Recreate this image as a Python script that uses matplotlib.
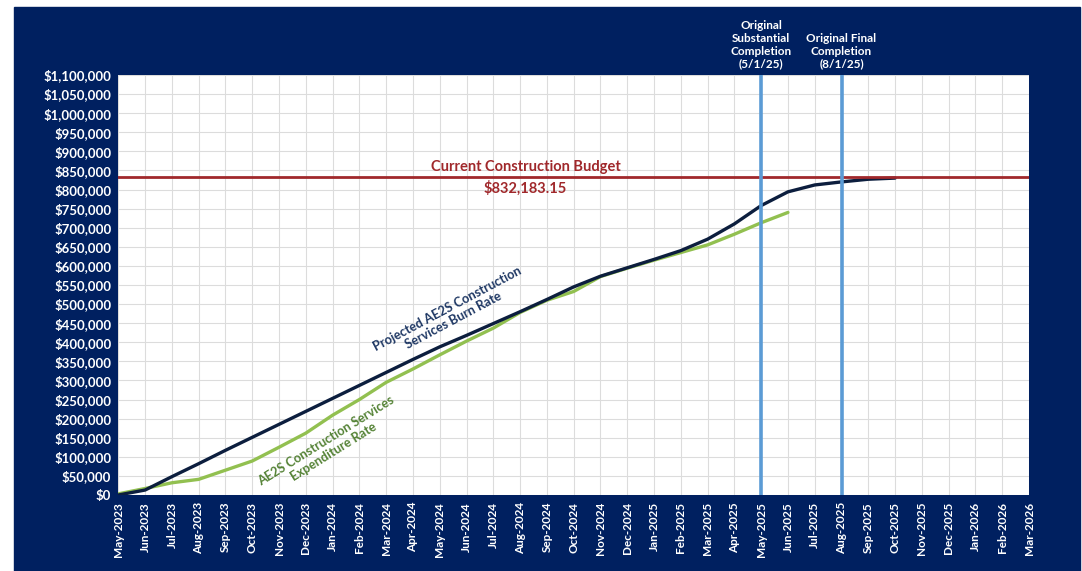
import matplotlib
matplotlib.use("Agg")
import matplotlib.pyplot as plt
from matplotlib.patches import Rectangle
from matplotlib.ticker import FuncFormatter

# ---------------------------------------------------------------------------
# Data
# ---------------------------------------------------------------------------
MONTHS = [
    "May-2023", "Jun-2023", "Jul-2023", "Aug-2023", "Sep-2023", "Oct-2023",
    "Nov-2023", "Dec-2023", "Jan-2024", "Feb-2024", "Mar-2024", "Apr-2024",
    "May-2024", "Jun-2024", "Jul-2024", "Aug-2024", "Sep-2024", "Oct-2024",
    "Nov-2024", "Dec-2024", "Jan-2025", "Feb-2025", "Mar-2025", "Apr-2025",
    "May-2025", "Jun-2025", "Jul-2025", "Aug-2025", "Sep-2025", "Oct-2025",
    "Nov-2025", "Dec-2025", "Jan-2026", "Feb-2026", "Mar-2026",
]

projected_burn = [
    0, 13000, 48000, 82000, 117000, 151000, 185000, 219000, 253000, 287000,
    321000, 355000, 388000, 418000, 449000, 480000, 512000, 545000, 573000,
    595000, 617000, 640000, 670000, 710000, 758000, 794000, 812000, 820000,
    827000, 830000,
]

actual_expenditure = [
    3000, 17000, 32000, 41000, 65000, 89000, 125000, 162000, 209000, 250000,
    295000, 330000, 367000, 403000, 437000, 478000, 510000, 533000, 572000,
    594000, 615000, 635000, 655000, 683000, 713000, 740000,
]

BUDGET = 832183.15
MILESTONES = [
    ("May-2025", "Original\nSubstantial\nCompletion\n(5/1/25)"),
    ("Aug-2025", "Original Final\nCompletion\n(8/1/25)"),
]

# ---------------------------------------------------------------------------
# Styling
# ---------------------------------------------------------------------------
NAVY_BG = "#002060"
NAVY_LINE = "#0c1e3e"
GREEN_LINE = "#92c050"
BUDGET_RED = "#a0282b"
MILESTONE_BLUE = "#5b9bd5"
GRID = "#dcdcdc"

plt.rcParams["font.family"] = ["Lato", "DejaVu Sans"]

W, H = 1082, 571
fig = plt.figure(figsize=(W / 100, H / 100), dpi=100, facecolor="white")
fig.patches.append(Rectangle((14 / W, 0), (1080 - 14) / W, (571 - 7) / H,
                             transform=fig.transFigure, color=NAVY_BG,
                             zorder=-10))

ax = fig.add_axes([118.3 / W, (H - 495) / H, (1029 - 118.3) / W, (495 - 75) / H])
ax.set_facecolor("white")

x_all = list(range(len(MONTHS)))

ax.plot(x_all[:len(actual_expenditure)], actual_expenditure,
        color=GREEN_LINE, linewidth=2.4, zorder=3, solid_capstyle="round")
ax.plot(x_all[:len(projected_burn)], projected_burn,
        color=NAVY_LINE, linewidth=2.4, zorder=4, solid_capstyle="round")

ax.axhline(BUDGET, color=BUDGET_RED, linewidth=2.0, zorder=5)

for month, label in MILESTONES:
    xm = MONTHS.index(month)
    ax.axvline(xm, color=MILESTONE_BLUE, linewidth=2.6, zorder=6)
    ax.annotate(label, xy=(xm, 1.0), xycoords=("data", "axes fraction"),
                xytext=(0, 4), textcoords="offset points",
                ha="center", va="bottom", color="white",
                fontsize=8.5, fontweight="bold", linespacing=1.2,
                annotation_clip=False)

# Budget label
ax.text(15.2, BUDGET + 8000, "Current Construction Budget", ha="center",
        va="bottom", color=BUDGET_RED, fontsize=10.5, fontweight="bold")
ax.text(15.2, BUDGET - 8000, f"${BUDGET:,.2f}", ha="center", va="top",
        color=BUDGET_RED, fontsize=10.5, fontweight="bold")

# Series labels
ax.text(12.4, 472000, "Projected AE2S Construction\nServices Burn Rate",
        ha="center", va="center", rotation=28, color="#1f3864",
        fontsize=9.2, fontweight="bold", linespacing=1.15)
ax.text(7.9, 128000, "AE2S Construction Services\nExpenditure Rate",
        ha="center", va="center", rotation=32, color="#548235",
        fontsize=9.2, fontweight="bold", linespacing=1.15)

# Axes
ax.set_xlim(0, len(MONTHS) - 1)
ax.set_ylim(0, 1100000)
ax.set_xticks(x_all)
ax.set_xticklabels(MONTHS, rotation=90, color="white", fontsize=8.5,
                   fontweight="bold")
ax.set_yticks(range(0, 1100001, 50000))
ax.yaxis.set_major_formatter(FuncFormatter(lambda v, _: f"${v:,.0f}"))
for lbl in ax.get_yticklabels():
    lbl.set_color("white")
    lbl.set_fontsize(9.5)
    lbl.set_fontweight("bold")

ax.tick_params(axis="both", length=0, pad=5)
ax.grid(True, color=GRID, linewidth=0.8, zorder=0)
ax.set_axisbelow(True)
for spine in ax.spines.values():
    spine.set_visible(False)

fig.savefig("out.png", dpi=100, facecolor=fig.get_facecolor())
